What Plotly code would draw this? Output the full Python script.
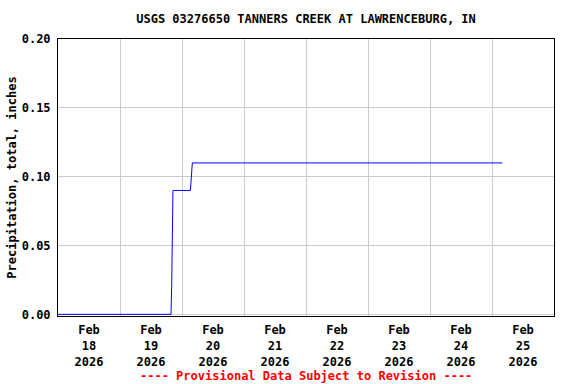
import plotly.graph_objects as go

times = ["2026-02-18 00:00", "2026-02-19 19:45", "2026-02-19 20:00", "2026-02-19 20:15",
         "2026-02-19 20:30", "2026-02-20 03:15", "2026-02-20 03:30", "2026-02-20 04:00",
         "2026-02-25 04:00"]
values = [0.00, 0.00, 0.02, 0.08, 0.09, 0.09, 0.10, 0.11, 0.11]

tick_positions = ["2026-02-%02d 12:00" % d for d in range(18, 26)]
tick_labels = ["Feb<br>%d<br>2026" % d for d in range(18, 26)]
y_ticks = [0.00, 0.05, 0.10, 0.15, 0.20]

title_text = "USGS 03276650 TANNERS CREEK AT LAWRENCEBURG, IN"
y_title = "Precipitation, total, inches"
caption = "---- Provisional Data Subject to Revision ----"

FONT = "DejaVu Sans Mono"

fig = go.Figure()
fig.add_trace(go.Scatter(x=times, y=values, mode="lines",
                         line=dict(color="#0000ff", width=1), hoverinfo="skip",
                         showlegend=False, cliponaxis=False))

fig.update_layout(
    width=576, height=384,
    margin=dict(l=58, r=22, t=39, b=68, autoexpand=False),
    paper_bgcolor="white", plot_bgcolor="white",
    font=dict(family=FONT, size=12, color="black", weight="bold"),
    title=dict(text=title_text, x=306 / 576, xanchor="center", y=1 - 19 / 384, yanchor="middle",
               font=dict(family=FONT, size=12, color="black", weight="bold")),
    xaxis=dict(
        type="date", automargin=False,
        range=["2026-02-18 00:00", "2026-02-26 00:00"],
        tickvals=tick_positions, ticktext=tick_labels, tickangle=0,
        showgrid=False, ticks="", ticklen=0, ticklabelstandoff=3,
        minor=dict(tick0="2026-02-18", dtick=86400000, showgrid=True,
                   gridcolor="#cccccc", gridwidth=1, ticks=""),
        showline=True, linecolor="black", linewidth=1, mirror=True,
        zeroline=False, fixedrange=True,
        tickfont=dict(family=FONT, size=12, color="black", weight="bold"),
    ),
    yaxis=dict(
        automargin=False,
        range=[-0.0012, 0.2], tickvals=y_ticks, tickformat=".2f",
        showgrid=True, gridcolor="#cccccc", gridwidth=1,
        showline=True, linecolor="black", linewidth=1, mirror=True,
        zeroline=False, ticks="", fixedrange=True, ticklabelstandoff=4,
        title=dict(text=y_title, standoff=2,
                   font=dict(family=FONT, size=12, color="black", weight="bold")),
        tickfont=dict(family=FONT, size=12, color="black", weight="bold"),
    ),
    annotations=[dict(text=caption, xref="paper", yref="paper",
                      x=0.5, y=-(376 - 316) / (316 - 39), xanchor="center", yanchor="middle",
                      showarrow=False,
                      font=dict(family=FONT, size=12, color="#ff0000", weight="bold"))],
)

fig.write_html("out.html")
